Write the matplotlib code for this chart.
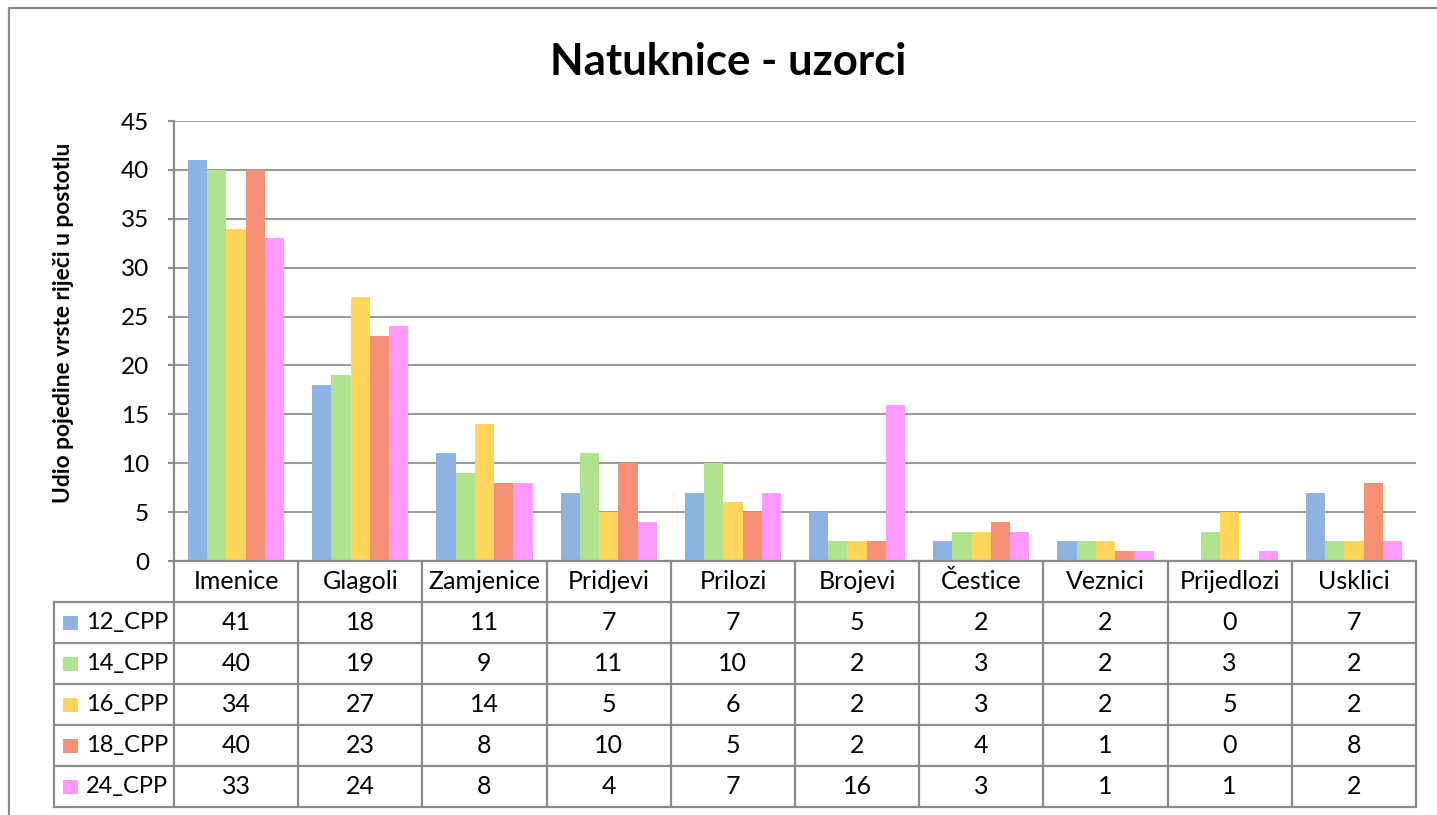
import matplotlib
matplotlib.use('Agg')
import matplotlib.pyplot as plt
import matplotlib.transforms as mtransforms
from matplotlib.patches import Rectangle
from matplotlib.lines import Line2D
import numpy as np

categories = ['Imenice', 'Glagoli', 'Zamjenice', 'Pridjevi', 'Prilozi',
              'Brojevi', 'Čestice', 'Veznici', 'Prijedlozi', 'Usklici']
series_names = ['12_CPP', '14_CPP', '16_CPP', '18_CPP', '24_CPP']
cpp12 = [41, 18, 11, 7, 7, 5, 2, 2, 0, 7]
cpp14 = [40, 19, 9, 11, 10, 2, 3, 2, 3, 2]
cpp16 = [34, 27, 14, 5, 6, 2, 3, 2, 5, 2]
cpp18 = [40, 23, 8, 10, 5, 2, 4, 1, 0, 8]
cpp24 = [33, 24, 8, 4, 7, 16, 3, 1, 1, 2]
yticks = [0, 5, 10, 15, 20, 25, 30, 35, 40, 45]
title = 'Natuknice - uzorci'
ylabel = 'Udio pojedine vrste riječi u postotlu'

series = [cpp12, cpp14, cpp16, cpp18, cpp24]
colors = ['#8DB3E2', '#AEE28C', '#FFD65A', '#F59075', '#FF99FF']

plt.rcParams['font.family'] = ['Lato', 'DejaVu Sans']

W, H = 1437, 815
fig = plt.figure(figsize=(W / 100, H / 100), dpi=100)
fig.patch.set_facecolor('white')

def fx(x):
    return x / W

def fy(y):
    return 1 - y / H

L, R, T, B = 174, 1416, 121, 561
ax = fig.add_axes([fx(L), fy(B), (R - L) / W, (B - T) / H])

n = len(series)
bw = 0.155
x = np.arange(len(categories))
for k, (vals, c) in enumerate(zip(series, colors)):
    ax.bar(x + (k - (n - 1) / 2) * bw, vals, width=bw, color=c,
           edgecolor='none', zorder=3)

ax.set_xlim(-0.5, len(categories) - 0.5)
ax.set_ylim(0, 45)
ax.set_yticks(yticks)
ax.set_xticks([])
ax.yaxis.grid(True, color='#9A9A9A', linewidth=1.5, zorder=0)
ax.set_axisbelow(True)
for s in ['top', 'right', 'bottom']:
    ax.spines[s].set_visible(False)
ax.spines['left'].set_color('#8A8A8A')
ax.spines['left'].set_linewidth(1.6)
ax.tick_params(axis='y', length=4, width=1.5, color='#8A8A8A',
               labelsize=17.5, pad=14, labelcolor='black')

# Title and y label
fig.text(fx(728), fy(62), title, ha='center', va='center',
         fontsize=31.5, fontweight='bold')
fig.text(fx(63), fy(323), ylabel, ha='center', va='center',
         rotation=90, fontsize=16.4, fontweight='bold')

# Data table under the axes
tr = mtransforms.blended_transform_factory(ax.transData, fig.transFigure)
lc = '#8A8A8A'
lw = 1.6
rows = [561, 602, 643, 684, 725, 766, 807]
xl_px = 54
fs = 18

# horizontal lines
for i, yy in enumerate(rows):
    x0 = L if i == 0 else xl_px
    fig.add_artist(Line2D([fx(x0), fx(R)], [fy(yy), fy(yy)], color=lc,
                          linewidth=lw, transform=fig.transFigure))
# vertical lines
fig.add_artist(Line2D([fx(xl_px), fx(xl_px)], [fy(rows[1]), fy(rows[-1])],
                      color=lc, linewidth=lw, transform=fig.transFigure))
for b in np.arange(-0.5, len(categories), 1.0):
    fig.add_artist(Line2D([b, b], [fy(rows[0]), fy(rows[-1])], color=lc,
                          linewidth=lw, transform=tr))

# header text
for i, cat in enumerate(categories):
    fig.text(i, fy((rows[0] + rows[1]) / 2), cat, transform=tr,
             ha='center', va='center', fontsize=fs)
# rows
for r, (name, vals, c) in enumerate(zip(series_names, series, colors)):
    yc = (rows[r + 1] + rows[r + 2]) / 2
    fig.add_artist(Rectangle((fx(63), fy(yc + 7)), 15 / W, 14 / H,
                             facecolor=c, edgecolor='none',
                             transform=fig.transFigure))
    fig.text(fx(86), fy(yc), name, ha='left', va='center', fontsize=17)
    for i, v in enumerate(vals):
        fig.text(i, fy(yc), str(v), transform=tr, ha='center',
                 va='center', fontsize=fs)

# outer chart border
fig.add_artist(Line2D([fx(9), fx(9), fx(W)], [fy(H), fy(8), fy(8)],
                      color='#8A8A8A', linewidth=1.6,
                      transform=fig.transFigure))

fig.savefig('out.png', dpi=100, facecolor='white')
